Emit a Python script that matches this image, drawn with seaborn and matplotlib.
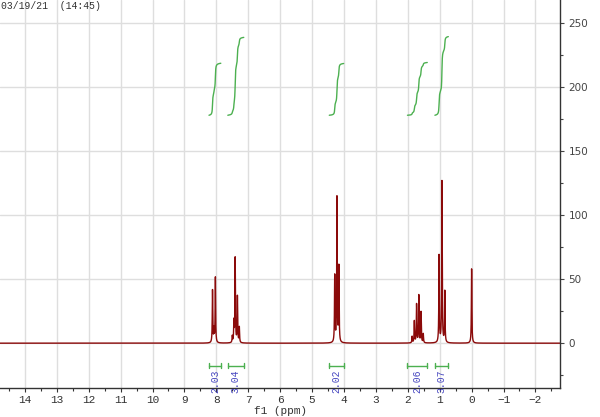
import numpy as np
import pandas as pd
import matplotlib
matplotlib.use("Agg")
import matplotlib.pyplot as plt
import seaborn as sns
from matplotlib.ticker import MultipleLocator, FixedLocator

# ---- data ----
peak_ppm = [8.12, 8.075, 8.03, 7.50, 7.45, 7.41, 7.34, 7.28,
            4.29, 4.22, 4.16,
            1.865, 1.795, 1.725, 1.655, 1.585, 1.515,
            1.02, 0.93, 0.84,
            0.00]
peak_height = [41, 10, 51, 5, 16, 66, 36, 12,
               52, 113, 59,
               5, 17, 30, 37, 24, 7,
               68, 126, 40,
               58]
peak_hwhm = 0.009

integral_start = [8.23, 7.64, 4.46, 2.01, 1.15]
integral_end = [7.86, 7.14, 4.01, 1.39, 0.73]
integral_value = [2.03, 3.04, 2.02, 2.06, 3.07]
integral_labels = ["2.03", "3.04", "2.02", "2.06", "3.07"]

x_ticks = list(range(14, -3, -1))
y_ticks = [0, 50, 100, 150, 200, 250]
timestamp = "03/19/21  (14:45)"
x_label = "f1 (ppm)"

# ---- build spectrum from peak list ----
ppm = np.linspace(14.78, -2.77, 35101)
intensity = np.zeros_like(ppm)
for p, h in zip(peak_ppm, peak_height):
    intensity += h * peak_hwhm**2 / ((ppm - p) ** 2 + peak_hwhm**2)
spec = pd.DataFrame({"ppm": ppm, "intensity": intensity})

sns.set_theme(style="whitegrid")
plt.rcParams["font.family"] = ["DejaVu Sans"]

fig = plt.figure(figsize=(6.0, 4.17), dpi=100)
ax = fig.add_axes([0.0, 29 / 417, 560 / 600, 388 / 417])
ax.set_facecolor("white")

sns.lineplot(data=spec, x="ppm", y="intensity", ax=ax, color="#8b0a0a",
             linewidth=1.0, sort=False, estimator=None)

base = 178.0
green = "#4cb050"
for s, e, v, lab in zip(integral_start, integral_end, integral_value, integral_labels):
    m = (ppm <= s) & (ppm >= e)
    seg = spec[m]
    cum = np.cumsum(seg["intensity"].to_numpy())
    cum = cum / cum[-1]
    idf = pd.DataFrame({"ppm": seg["ppm"].to_numpy(), "y": base + 20 * v * cum})
    sns.lineplot(data=idf, x="ppm", y="y", ax=ax, color=green, linewidth=1.0,
                 sort=False, estimator=None)
    # bracket
    ax.plot([s, e], [-17.5, -17.5], color=green, lw=1.0)
    ax.plot([s, s], [-15.5, -19.5], color=green, lw=1.0)
    ax.plot([e, e], [-15.5, -19.5], color=green, lw=1.0)
    ax.text((s + e) / 2, -20.5, lab, rotation=90, ha="center", va="top",
            color="#4646c0", fontsize=7, family=["Liberation Mono"])

ax.set_xlim(14.78, -2.77)
ax.set_ylim(-35, 268)
ax.xaxis.set_major_locator(FixedLocator(x_ticks))
ax.xaxis.set_minor_locator(MultipleLocator(0.5))
ax.yaxis.set_major_locator(FixedLocator(y_ticks))
ax.yaxis.set_minor_locator(MultipleLocator(25))
ax.yaxis.tick_right()
ax.yaxis.set_label_position("right")

ax.grid(True, which="major", color="#dedede", linewidth=1.0)
ax.grid(False, which="minor")

for side in ["left", "top"]:
    ax.spines[side].set_visible(False)
for side in ["bottom", "right"]:
    ax.spines[side].set_visible(True)
    ax.spines[side].set_color("#333333")
    ax.spines[side].set_linewidth(1.0)

ax.tick_params(axis="x", which="major", direction="out", length=3, width=0.8,
               colors="#333333", pad=2, labelsize=8, bottom=True)
ax.tick_params(axis="x", which="minor", direction="out", length=2, width=0.8,
               colors="#333333", bottom=True)
ax.tick_params(axis="y", which="major", direction="out", length=3, width=0.8,
               colors="#444444", pad=3, labelsize=7.5, right=True, left=False)
ax.tick_params(axis="y", which="minor", direction="out", length=2, width=0.8,
               colors="#444444", right=True, left=False)
for t in ax.get_xticklabels():
    t.set_family(["Liberation Mono"])

ax.set_xlabel(x_label, family=["Liberation Mono"], fontsize=8, color="#333333",
              labelpad=1)
ax.set_ylabel("")

fig.text(0.002, 0.997, timestamp, ha="left", va="top", fontsize=7,
         family=["Liberation Mono"], color="#333333")

fig.savefig("out.png", dpi=100, facecolor="white")
